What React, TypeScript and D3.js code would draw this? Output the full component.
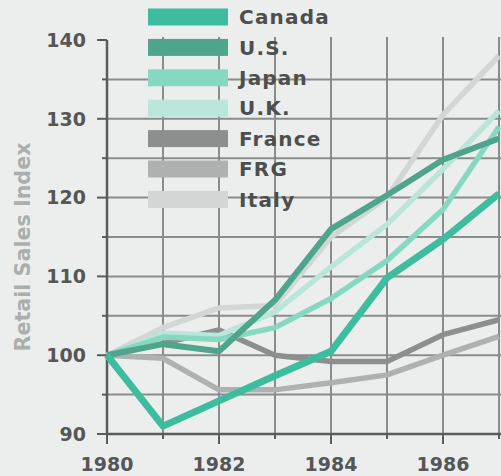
import React from "react";
import * as d3 from "d3";

const years = [1980, 1981, 1982, 1983, 1984, 1985, 1986, 1987];
const seriesNames = ["Canada", "U.S.", "Japan", "U.K.", "France", "FRG", "Italy"];
const canada = [100, 91, 94.2, 97.4, 100.5, 109.8, 114.7, 120.5];
const us = [100, 101.4, 100.5, 107, 116, 120.3, 124.8, 127.5];
const japan = [100, 102.3, 102, 103.5, 107.2, 112, 118.5, 129];
const uk = [100, 102.8, 102.5, 105.5, 111.2, 116.6, 123.6, 131];
const france = [100, 101.5, 103.2, 100, 99.2, 99.2, 102.6, 104.5];
const frg = [100, 99.6, 95.6, 95.6, 96.5, 97.5, 100, 102.4];
const italy = [100, 103.5, 106, 106.3, 115, 120, 130.5, 138];
const yTickLabels = [90, 100, 110, 120, 130, 140];
const xTickLabels = [1980, 1982, 1984, 1986];
const yAxisTitle = "Retail Sales Index";

const seriesValues = [canada, us, japan, uk, france, frg, italy];
const colors = ["#3dbd9e", "#4ea48d", "#86d8c2", "#b9e5da", "#8b908e", "#adb2b0", "#d2d6d4"];
const widths = [7, 6, 5.5, 5.5, 5.5, 5.5, 5.5];

export default function App() {
  const W = 501, H = 476;
  const x = d3.scaleLinear().domain([1980, 1987]).range([107, 499]);
  const y = d3.scaleLinear().domain([90, 140]).range([434, 40]);
  const line = d3
    .line<number>()
    .x((_, i) => x(years[i]))
    .y((v) => y(v));

  const minorY = d3.range(95, 140, 5);
  const allY = d3.range(90, 141, 5);
  const gridColor = "#8a8c8b";
  const axisColor = "#5a5c5b";
  const font = "'DejaVu Sans', sans-serif";

  const order = [6, 5, 4, 3, 2, 1, 0];

  return (
    <svg width={W} height={H} style={{ position: "absolute", left: 0, top: 0, display: "block" }}>
      <rect x={0} y={0} width={W} height={H} fill="#eceeed" />
      {minorY.map((v) => (
        <line key={"hg" + v} x1={x(1980)} x2={W} y1={y(v)} y2={y(v)} stroke={gridColor} strokeWidth={2} />
      ))}
      {years.slice(1).map((yr) => (
        <line key={"vg" + yr} x1={x(yr)} x2={x(yr)} y1={y(140) - 3} y2={y(90)} stroke={gridColor} strokeWidth={2} />
      ))}
      {allY.map((v) => (
        <line
          key={"yt" + v}
          x1={x(1980) - (v % 10 === 0 ? 10 : 5)}
          x2={x(1980)}
          y1={y(v)}
          y2={y(v)}
          stroke={axisColor}
          strokeWidth={2}
        />
      ))}
      {years.map((yr) => (
        <line
          key={"xt" + yr}
          x1={x(yr)}
          x2={x(yr)}
          y1={y(90)}
          y2={y(90) + (yr % 2 === 0 ? 10 : 5)}
          stroke={axisColor}
          strokeWidth={2}
        />
      ))}
      <line x1={x(1980)} x2={x(1980)} y1={y(140)} y2={y(90)} stroke={axisColor} strokeWidth={2.5} />
      <line x1={x(1980)} x2={W} y1={y(90)} y2={y(90)} stroke={axisColor} strokeWidth={2.5} />
      {yTickLabels.map((v) => (
        <text
          key={"yl" + v}
          x={86}
          y={y(v)}
          dy="0.36em"
          textAnchor="end"
          fontFamily={font}
          fontWeight="bold"
          fontSize={19}
          fill="#555756"
        >
          {v}
        </text>
      ))}
      {xTickLabels.map((yr) => (
        <text
          key={"xl" + yr}
          x={x(yr)}
          y={471}
          textAnchor="middle"
          fontFamily={font}
          fontWeight="bold"
          fontSize={19}
          fill="#555756"
        >
          {yr}
        </text>
      ))}
      <text
        transform={`translate(30,247) rotate(-90)`}
        textAnchor="middle"
        fontFamily={font}
        fontWeight="bold"
        fontSize={21}
        fill="#a9afac"
        textLength={209}
        lengthAdjust="spacingAndGlyphs"
      >
        {yAxisTitle}
      </text>
      {order.map((i) => (
        <path
          key={"s" + i}
          d={line(seriesValues[i]) || ""}
          fill="none"
          stroke={colors[i]}
          strokeWidth={widths[i]}
          strokeLinejoin="round"
          strokeLinecap="butt"
        />
      ))}
      {seriesNames.map((name, i) => (
        <g key={"lg" + i} transform={`translate(148, ${17 + i * 30.4})`}>
          <rect x={0} y={-8.5} width={80} height={17} fill={colors[i]} />
          <text
            x={91}
            y={0}
            dy="0.36em"
            fontFamily={font}
            fontWeight="bold"
            fontSize={20}
            letterSpacing={1.2}
            fill="#4d4f4e"
          >
            {name}
          </text>
        </g>
      ))}
    </svg>
  );
}
